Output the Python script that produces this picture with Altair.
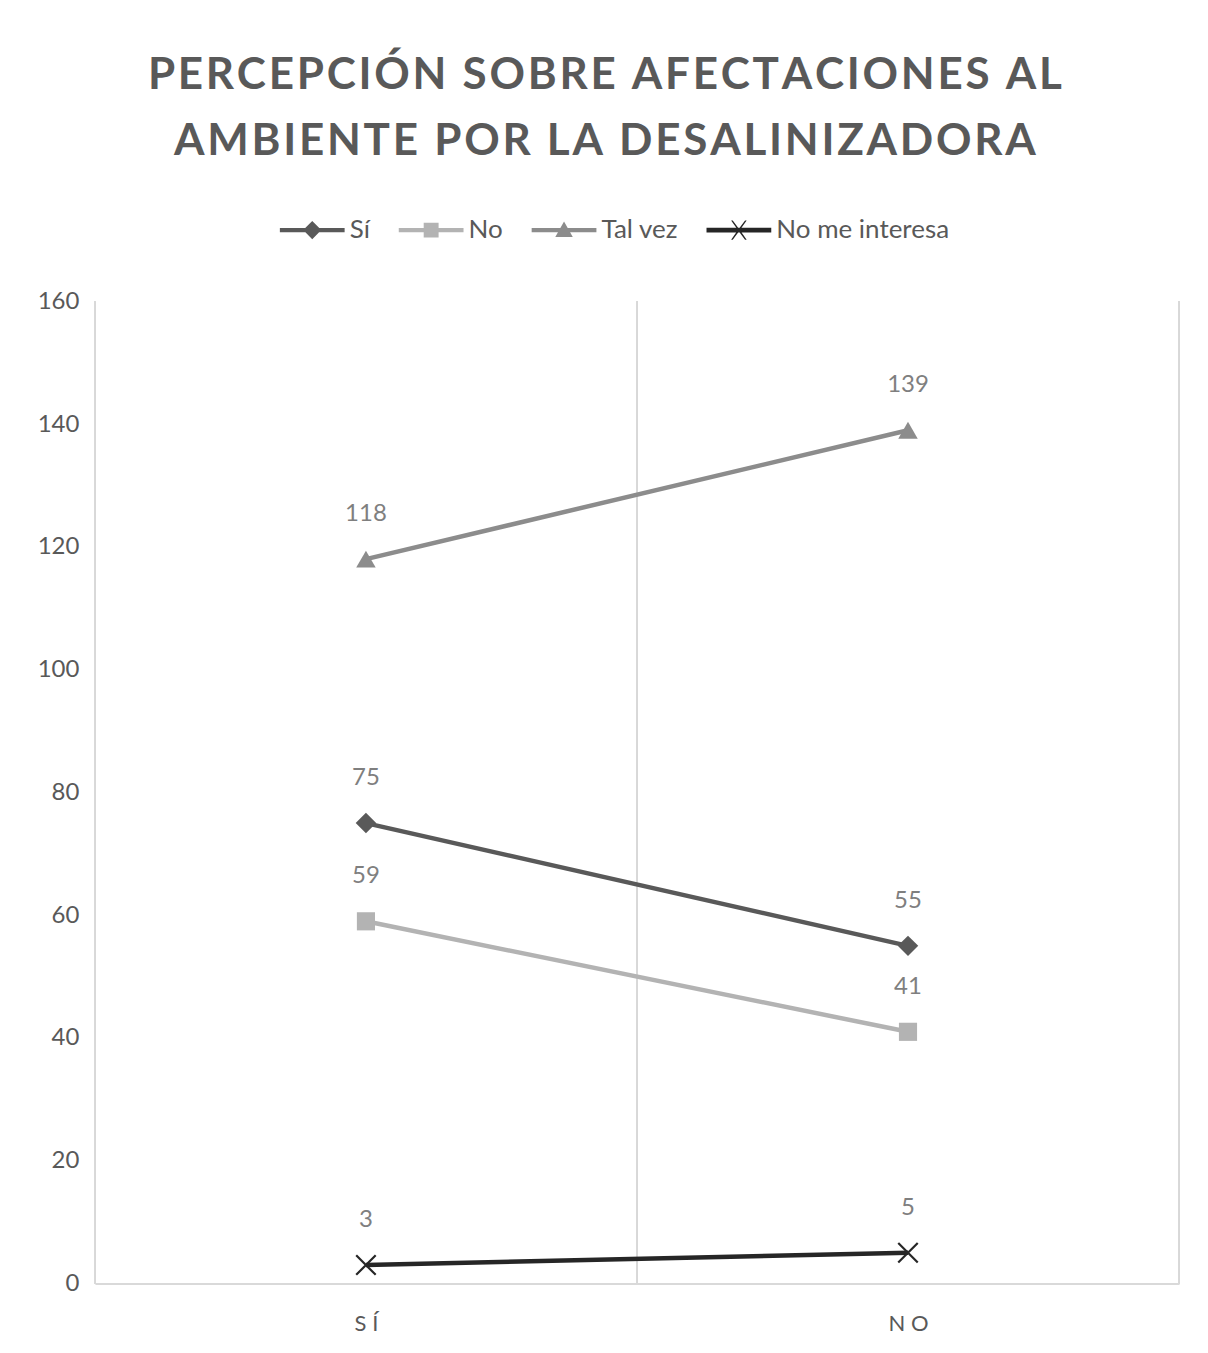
import altair as alt
import pandas as pd

# ---------------- data ----------------
categories = ["Sí", "No"]
category_labels = ["S Í", "N O"]
series = ["Sí", "No", "Tal vez", "No me interesa"]
values_si = [75, 55]
values_no = [59, 41]
values_talvez = [118, 139]
values_nointeresa = [3, 5]

series_values = [values_si, values_no, values_talvez, values_nointeresa]
colors = ["#595959", "#b3b3b3", "#8c8c8c", "#262626"]

rows = []
for s, vals in zip(series, series_values):
    for i, (c, v) in enumerate(zip(categories, vals)):
        rows.append({"serie": s, "categoria": c, "pos": i + 0.5, "valor": v})
df = pd.DataFrame(rows)

FONT = "Lato"
GRID = "#d9d9d9"

# legend symbols: line + marker drawn as one filled path
legend_paths = [
    "M-1,-0.065H1V0.065H-1Z M0,-0.28L0.28,0L0,0.28L-0.28,0Z",
    "M-1,-0.065H1V0.065H-1Z M-0.23,-0.23H0.23V0.23H-0.23Z",
    "M-1,-0.065H1V0.065H-1Z M0,-0.27L0.27,0.21H-0.27Z",
    "M-1,-0.07H1V0.07H-1Z M-0.24,-0.3L-0.19,-0.3L0,-0.04L0.19,-0.3L0.24,-0.3L0.03,0L0.24,0.3L0.19,0.3L0,0.04L-0.19,0.3L-0.24,0.3L-0.03,0Z",
]

color_scale = alt.Scale(domain=series, range=colors)

label_expr = " : ".join(
    [f"datum.value == {i + 0.5} ? '{lab}'" for i, lab in enumerate(category_labels)]
) + " : ''"

x_enc = alt.X(
    "pos:Q",
    scale=alt.Scale(domain=[0, len(categories)], nice=False, zero=False),
    axis=alt.Axis(
        title=None,
        values=[i + 0.5 for i in range(len(categories))],
        labelExpr=label_expr,
        grid=False,
        ticks=False,
        domain=True,
        domainColor=GRID,
        domainWidth=2,
        labelFont=FONT,
        labelFontSize=22,
        labelColor="#595959",
        labelPadding=30,
    ),
)
y_enc = alt.Y(
    "valor:Q",
    scale=alt.Scale(domain=[0, 160], nice=False),
    axis=alt.Axis(
        title=None,
        values=list(range(0, 161, 20)),
        grid=False,
        ticks=False,
        domain=False,
        labelFont=FONT,
        labelFontSize=24,
        labelColor="#595959",
        labelPadding=16,
        minExtent=65,
        maxExtent=65,
    ),
)

color_enc = alt.Color("serie:N", scale=color_scale, title=None)

base = alt.Chart(df)

gridlines = alt.layer(
    *[
        base.mark_rule(color=GRID, strokeWidth=1.5).encode(x=alt.datum(float(k)))
        for k in range(len(categories) + 1)
    ]
)

lines = base.mark_line(strokeWidth=4.5).encode(
    x=x_enc,
    y=y_enc,
    color=color_enc,
    detail="serie:N",
)

marker_shapes = {"Sí": ("diamond", 420), "No": ("square", 330), "Tal vez": ("triangle-up", 380)}
markers = [
    base.transform_filter(alt.datum.serie == s)
    .mark_point(filled=True, opacity=1, shape=shp, size=sz)
    .encode(x="pos:Q", y="valor:Q", color=color_enc)
    for s, (shp, sz) in marker_shapes.items()
]
xmark = (
    base.transform_filter(alt.datum.serie == "No me interesa")
    .mark_point(
        filled=False,
        opacity=1,
        shape="M-1,-1L1,1M-1,1L1,-1",
        size=380,
        strokeWidth=2.2,
    )
    .encode(x="pos:Q", y="valor:Q", color=color_enc)
)

labels = base.mark_text(
    dy=-45, font=FONT, fontSize=24, color="#7f7f7f"
).encode(x="pos:Q", y="valor:Q", text="valor:Q")

legend_layer = (
    base.transform_filter("false")
    .mark_point(filled=True, opacity=1)
    .encode(
        x="pos:Q",
        y="valor:Q",
        color=color_enc,
        shape=alt.Shape(
            "serie:N",
            scale=alt.Scale(domain=series, range=legend_paths),
            title=None,
        ),
    )
)

title_lines = [
    "\u200a".join(list("PERCEPCIÓN SOBRE AFECTACIONES AL")),
    "\u200a".join(list("AMBIENTE POR LA DESALINIZADORA")),
]

chart = (
    alt.layer(gridlines, lines, *markers, xmark, labels, legend_layer)
    .properties(
        width=1085,
        height=983,
        title=alt.TitleParams(
            title_lines,
            font=FONT,
            fontSize=44,
            fontWeight="bold",
            color="#595959",
            anchor="middle",
            frame="bounds",
            lineHeight=66,
            offset=33,
        ),
        padding={"left": 30, "top": 54, "right": 28, "bottom": 20},
    )
    .configure_view(stroke=None)
    .configure_legend(
        orient="none",
        legendX=185,
        legendY=-104,
        direction="horizontal",
        labelFont=FONT,
        labelFontSize=26,
        labelColor="#595959",
        labelLimit=400,
        symbolSize=4200,
        symbolStrokeWidth=0,
        columnPadding=28,
        labelOffset=5,
        padding=0,
    )
)

chart.save("out.html", embed_options={"renderer": "svg", "actions": False})
